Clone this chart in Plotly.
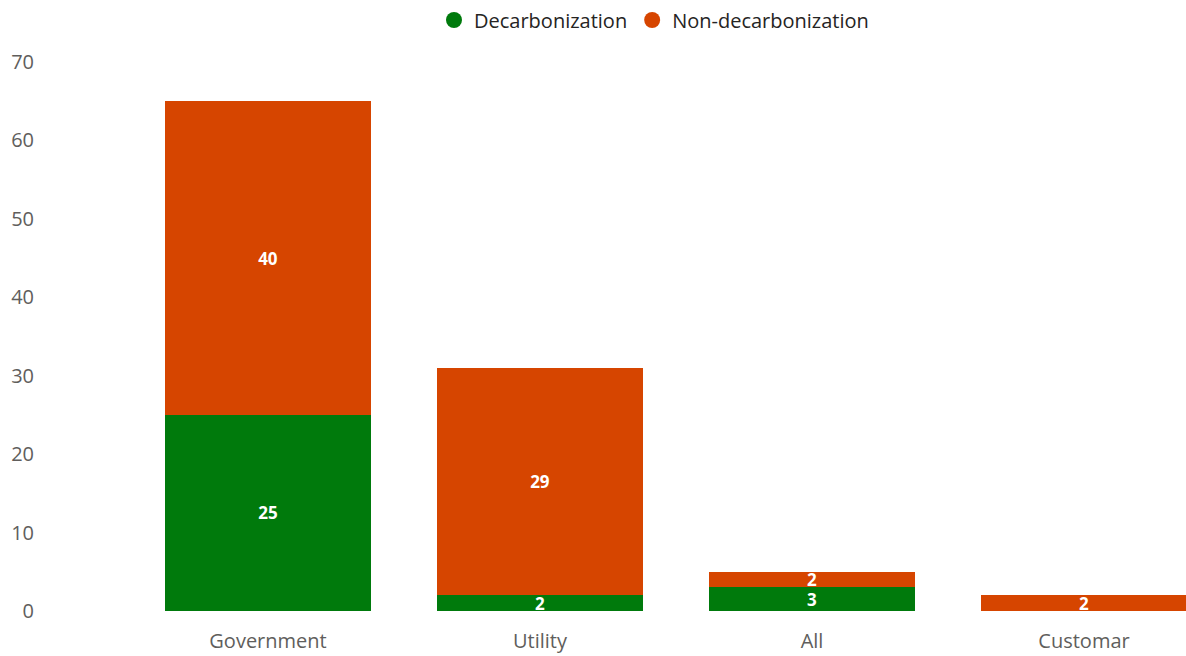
import plotly.graph_objects as go

categories = ["Government", "Utility", "All", "Customar"]
decarbonization = [25, 2, 3, 0]
non_decarbonization = [40, 29, 2, 2]
y_ticks = [0, 10, 20, 30, 40, 50, 60, 70]

GREEN = "#007A0C"
ORANGE = "#D64500"
FONT = "Open Sans"

W, H = 1186, 656
ML, MR, MT, MB = 34, 0, 62, 45

fig = go.Figure()

def labels(vals):
    return [str(v) if v else "" for v in vals]

for vals, nm, col in [(decarbonization, "Decarbonization", GREEN),
                      (non_decarbonization, "Non-decarbonization", ORANGE)]:
    fig.add_trace(go.Bar(
        x=categories, y=vals, name=nm,
        marker=dict(color=col, line=dict(width=0)),
        text=labels(vals), textposition="inside", textangle=0,
        insidetextanchor="middle", constraintext="none",
        textfont=dict(color="white", size=17, family=FONT, weight="bold"),
        showlegend=False, hoverinfo="x+y",
    ))
# legend entries with circle markers
for nm, col in [("Decarbonization", GREEN), ("Non-decarbonization", ORANGE)]:
    fig.add_trace(go.Scatter(
        x=[None], y=[None], mode="markers", name=nm,
        marker=dict(symbol="circle", size=17, color=col),
    ))

plot_w = W - ML - MR
plot_h = H - MT - MB
x_start = (132 - ML) / plot_w

fig.update_layout(
    width=W, height=H,
    margin=dict(l=ML, r=MR, t=MT, b=MB, pad=0, autoexpand=False),
    plot_bgcolor="white", paper_bgcolor="white",
    barmode="stack", bargap=0.24,
    font=dict(family=FONT, color="#605E5C", size=18),
    showlegend=True,
    legend=dict(
        orientation="h", x=(654 - ML) / plot_w, xanchor="center",
        y=(H - MB - 20) / plot_h, yanchor="middle",
        font=dict(size=20, color="#252423", family=FONT),
        itemwidth=30, traceorder="normal", bgcolor="rgba(0,0,0,0)",
    ),
    xaxis=dict(
        domain=[x_start, 1], range=[-0.5, 3.375],
        showgrid=False, showline=False, zeroline=False, ticks="",
        tickfont=dict(size=20, color="#605E5C"),
        ticklabelstandoff=16,
        fixedrange=True,
    ),
    yaxis=dict(
        range=[0, 70], tickvals=y_ticks, anchor="free", position=0,
        showgrid=False, showline=False, zeroline=False, ticks="",
        tickfont=dict(size=20, color="#605E5C"),
        fixedrange=True,
    ),
)

fig.write_html("out.html", config={"displayModeBar": False},
               post_script="document.body.style.margin='0';")
